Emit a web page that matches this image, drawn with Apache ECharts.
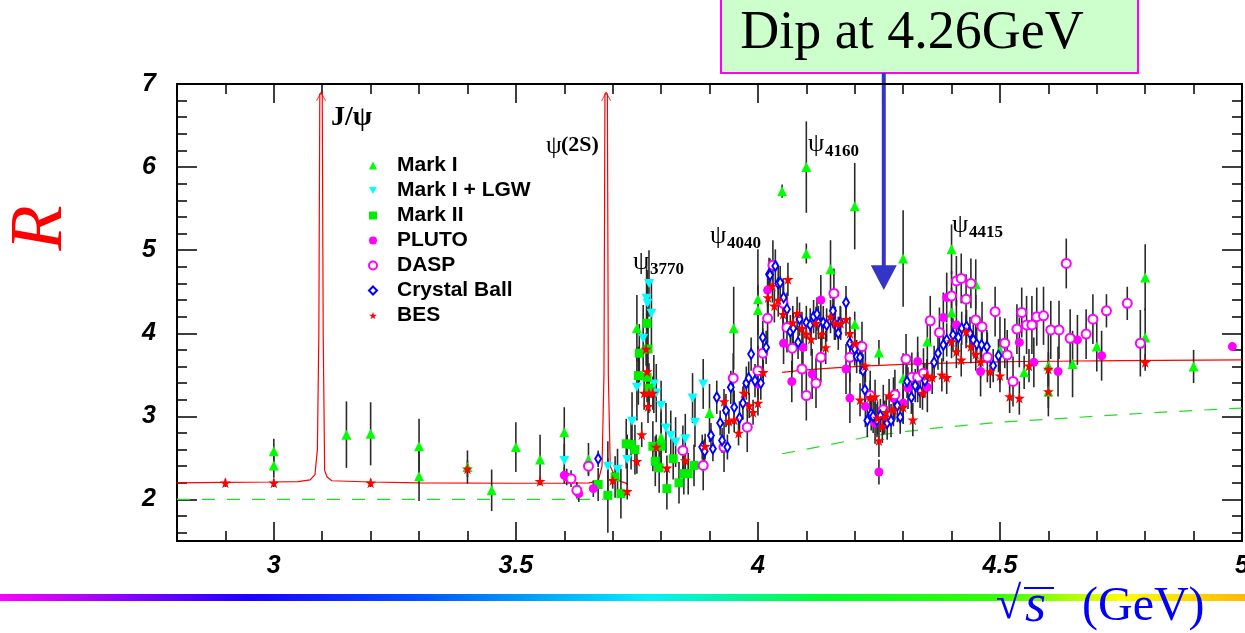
<!DOCTYPE html>
<html>
<head>
<meta charset="utf-8">
<script src="https://cdn.jsdelivr.net/npm/echarts@6/dist/echarts.min.js"></script>
<style>
  html, body { margin: 0; padding: 0; background: #ffffff; }
  #chart { width: 1245px; height: 633px; }
</style>
</head>
<body>
<div id="chart"></div>
<script>
// R = sigma(e+e- -> hadrons) / sigma(mu+mu-) in the charm threshold region.
// Each point: [sqrt(s) in GeV, R, symmetric error]
const markI = [
  [3.0, 2.58, 0.15], [3.0, 2.41, 0.15], [3.15, 2.78, 0.4], [3.2, 2.79, 0.38],
  [3.3, 2.64, 0.33], [3.3, 2.28, 0.3], [3.4, 2.39, 0.2], [3.45, 2.11, 0.25],
  [3.5, 2.63, 0.3], [3.55, 2.48, 0.3], [3.6, 2.81, 0.3], [3.65, 2.48, 0.2],
  [3.75, 4.06, 0.4], [3.8, 2.75, 0.3], [3.9, 3.04, 0.35], [3.95, 4.06, 0.5],
  [4.0, 4.41, 0.6], [4.0, 4.28, 0.3], [4.05, 5.71, 0.08], [4.1, 6.0, 0.55],
  [4.1, 4.96, 0.12], [4.15, 4.77, 0.35], [4.2, 5.53, 0.52], [4.2, 4.11, 0.15],
  [4.25, 3.77, 0.15], [4.3, 4.9, 0.58], [4.3, 3.46, 0.3], [4.35, 3.9, 0.3],
  [4.4, 5.01, 0.3], [4.4, 4.25, 0.3], [4.45, 4.59, 0.3], [4.5, 3.8, 0.4],
  [4.55, 3.53, 0.2], [4.6, 3.61, 0.4], [4.6, 3.3, 0.3], [4.65, 3.63, 0.4],
  [4.7, 3.84, 0.3], [4.8, 4.67, 0.4], [4.8, 3.95, 0.35], [4.9, 3.6, 0.2]
];
const markILGW = [
  [3.6, 2.47, 0.2], [3.69, 2.40, 0.3], [3.71, 2.36, 0.25], [3.73, 2.48, 0.3],
  [3.74, 2.94, 0.35], [3.75, 3.35, 0.4], [3.763, 3.94, 0.4], [3.77, 4.42, 0.4],
  [3.775, 4.6, 0.4], [3.772, 4.36, 0.4], [3.78, 4.24, 0.4], [3.785, 3.39, 0.35],
  [3.79, 3.28, 0.35], [3.80, 3.13, 0.3], [3.81, 2.86, 0.3], [3.82, 2.77, 0.3],
  [3.83, 2.69, 0.3], [3.85, 2.73, 0.3], [3.865, 3.22, 0.3], [3.87, 2.93, 0.3],
  [3.887, 3.39, 0.3]
];
const markII = [
  [3.67, 2.18, 0.2], [3.69, 2.05, 0.45], [3.705, 2.27, 0.25], [3.717, 2.07, 0.3],
  [3.728, 2.67, 0.3], [3.738, 2.66, 0.3], [3.746, 2.60, 0.3], [3.753, 3.49, 0.35],
  [3.755, 3.76, 0.35], [3.771, 4.12, 0.35], [3.773, 3.81, 0.35], [3.771, 3.47, 0.3],
  [3.775, 3.34, 0.3], [3.783, 2.64, 0.3], [3.788, 2.46, 0.3], [3.796, 2.38, 0.3],
  [3.80, 2.64, 0.3], [3.812, 2.13, 0.25], [3.825, 2.49, 0.25], [3.837, 2.20, 0.25],
  [3.847, 2.31, 0.25], [3.856, 2.31, 0.25], [3.868, 2.41, 0.25]
];
const pluto = [
  [3.60, 2.29, 0.1], [3.605, 2.27, 0.1], [3.63, 2.07, 0.1], [3.66, 2.13, 0.1],
  [4.0, 3.39, 0.2], [4.02, 4.52, 0.2], [4.053, 3.88, 0.25], [4.07, 3.42, 0.25],
  [4.093, 3.83, 0.25], [4.112, 3.51, 0.3], [4.13, 4.40, 0.3], [4.182, 3.57, 0.3],
  [4.19, 3.22, 0.3], [4.222, 3.12, 0.25], [4.242, 2.92, 0.25], [4.25, 2.33, 0.15],
  [4.28, 3.22, 0.25], [4.30, 3.16, 0.25], [4.31, 3.34, 0.25], [4.33, 3.66, 0.3],
  [4.35, 3.35, 0.3], [4.383, 4.19, 0.3], [4.39, 4.43, 0.3], [4.41, 4.10, 0.3],
  [4.46, 3.54, 0.3], [4.54, 3.89, 0.3], [4.57, 3.65, 0.3], [4.62, 3.54, 0.3],
  [4.66, 3.92, 0.3], [4.71, 3.73, 0.3], [4.98, 3.84, 0]
];
const dasp = [
  [3.614, 2.25, 0.1], [3.626, 2.11, 0.1], [3.65, 2.40, 0.1], [3.845, 2.59, 0.3],
  [3.887, 2.41, 0.3], [3.93, 2.63, 0.3], [3.949, 3.46, 0.3], [3.978, 2.87, 0.3],
  [4.0, 3.55, 0.3], [4.01, 3.76, 0.3], [4.02, 4.18, 0.3], [4.031, 4.82, 0.3],
  [4.052, 4.36, 0.3], [4.06, 4.07, 0.3], [4.071, 3.82, 0.3], [4.091, 3.57, 0.3],
  [4.10, 3.25, 0.3], [4.12, 3.40, 0.3], [4.13, 3.71, 0.3], [4.157, 4.48, 0.3],
  [4.19, 3.71, 0.3], [4.215, 3.84, 0.3], [4.232, 3.25, 0.3], [4.259, 3.08, 0.3],
  [4.283, 3.26, 0.3], [4.306, 3.69, 0.3], [4.318, 3.47, 0.3], [4.33, 3.47, 0.3],
  [4.342, 3.52, 0.3], [4.356, 4.15, 0.3], [4.375, 4.01, 0.3], [4.40, 4.45, 0.3],
  [4.41, 4.63, 0.3], [4.42, 4.66, 0.3], [4.43, 4.41, 0.3], [4.44, 4.60, 0.3],
  [4.45, 4.16, 0.3], [4.463, 4.08, 0.3], [4.474, 3.71, 0.3], [4.49, 4.26, 0.3],
  [4.51, 3.88, 0.3], [4.515, 3.74, 0.3], [4.527, 3.42, 0.3], [4.535, 4.05, 0.3],
  [4.545, 4.25, 0.3], [4.555, 4.10, 0.35], [4.566, 4.10, 0.35], [4.576, 4.20, 0.35],
  [4.59, 4.21, 0.35], [4.605, 4.04, 0.35], [4.622, 4.04, 0.35], [4.637, 4.84, 0.3],
  [4.645, 3.94, 0.35], [4.678, 3.99, 0.3], [4.692, 4.17, 0.3], [4.72, 4.27, 0.2],
  [4.763, 4.36, 0.2], [4.79, 3.88, 0.4]
];
const crystalBall = [
  [3.67, 2.49, 0.1], [3.885, 2.63, 0.15], [3.89, 2.58, 0.15], [3.903, 2.77, 0.15],
  [3.907, 2.61, 0.15], [3.915, 3.23, 0.2], [3.922, 2.92, 0.15], [3.926, 2.71, 0.15],
  [3.934, 3.07, 0.2], [3.937, 2.63, 0.15], [3.944, 3.35, 0.2], [3.951, 3.11, 0.2],
  [3.962, 2.98, 0.2], [3.969, 3.16, 0.2], [3.976, 3.40, 0.2], [3.981, 3.46, 0.2],
  [3.986, 3.75, 0.2], [3.994, 3.43, 0.2], [4.006, 3.40, 0.2], [4.01, 3.95, 0.2],
  [4.017, 3.83, 0.2], [4.023, 4.71, 0.2], [4.025, 4.70, 0.2], [4.036, 4.81, 0.2],
  [4.042, 4.60, 0.2], [4.046, 4.61, 0.2], [4.053, 4.43, 0.2], [4.06, 4.29, 0.2],
  [4.067, 4.02, 0.2], [4.073, 4.06, 0.2], [4.083, 3.89, 0.2], [4.086, 4.17, 0.2],
  [4.10, 4.13, 0.2], [4.108, 4.10, 0.2], [4.115, 4.20, 0.2], [4.122, 4.23, 0.2],
  [4.125, 4.13, 0.2], [4.135, 4.13, 0.2], [4.142, 4.10, 0.2], [4.155, 4.27, 0.2],
  [4.158, 4.12, 0.2], [4.166, 4.0, 0.2], [4.170, 4.13, 0.2], [4.182, 4.37, 0.2],
  [4.19, 3.88, 0.2], [4.20, 3.81, 0.2], [4.204, 3.72, 0.2], [4.211, 3.71, 0.2],
  [4.217, 3.55, 0.2], [4.221, 3.32, 0.2], [4.226, 2.95, 0.2], [4.234, 3.03, 0.2],
  [4.238, 3.0, 0.2], [4.246, 2.95, 0.2], [4.253, 3.01, 0.2], [4.267, 2.92, 0.2],
  [4.275, 2.95, 0.2], [4.288, 3.13, 0.2], [4.294, 2.99, 0.2], [4.308, 3.42, 0.2],
  [4.317, 3.23, 0.2], [4.325, 3.37, 0.2], [4.335, 3.30, 0.2], [4.345, 3.43, 0.2],
  [4.364, 3.65, 0.2], [4.372, 3.76, 0.2], [4.383, 3.86, 0.2], [4.39, 3.92, 0.2],
  [4.403, 3.98, 0.2], [4.414, 3.95, 0.2], [4.421, 4.06, 0.2], [4.431, 4.08, 0.2],
  [4.438, 4.0, 0.2], [4.445, 3.92, 0.2], [4.452, 3.87, 0.2], [4.462, 3.86, 0.2],
  [4.473, 3.84, 0.2], [4.486, 3.61, 0.2], [4.497, 3.73, 0.2]
];
const bes = [
  [2.9, 2.2, 0.05], [3.0, 2.2, 0.05], [3.2, 2.2, 0.05], [3.4, 2.37, 0.1],
  [3.55, 2.22, 0.05], [3.70, 2.23, 0.1], [3.73, 2.10, 0.1], [3.75, 2.46, 0.15],
  [3.76, 2.78, 0.15], [3.765, 3.28, 0.2], [3.769, 3.81, 0.2], [3.771, 3.54, 0.2],
  [3.775, 3.28, 0.2], [3.773, 3.12, 0.2], [3.783, 3.28, 0.2], [3.79, 2.63, 0.15],
  [3.812, 2.38, 0.15], [3.85, 2.47, 0.15], [3.891, 2.64, 0.15], [3.93, 3.18, 0.15],
  [3.94, 2.94, 0.15], [3.951, 2.96, 0.15], [3.96, 2.80, 0.15], [3.971, 3.28, 0.15],
  [3.982, 3.13, 0.15], [3.99, 3.05, 0.15], [4.0, 3.16, 0.15], [4.011, 3.53, 0.15],
  [4.021, 4.43, 0.2], [4.03, 4.57, 0.2], [4.034, 4.33, 0.2], [4.042, 4.40, 0.2],
  [4.052, 4.23, 0.2], [4.062, 4.65, 0.2], [4.072, 4.13, 0.2], [4.081, 4.24, 0.2],
  [4.091, 4.06, 0.2], [4.10, 3.99, 0.2], [4.11, 3.93, 0.2], [4.12, 4.12, 0.2],
  [4.132, 3.99, 0.2], [4.14, 3.83, 0.2], [4.15, 4.20, 0.2], [4.16, 4.12, 0.2],
  [4.171, 4.12, 0.2], [4.182, 4.17, 0.2], [4.19, 4.0, 0.2], [4.20, 3.88, 0.2],
  [4.222, 3.61, 0.2], [4.211, 3.20, 0.2], [4.232, 3.23, 0.2], [4.242, 3.24, 0.2],
  [4.247, 2.98, 0.2], [4.25, 2.71, 0.2], [4.257, 2.88, 0.2], [4.262, 2.99, 0.2],
  [4.265, 3.05, 0.2], [4.271, 3.25, 0.2], [4.28, 3.08, 0.2], [4.30, 3.11, 0.2],
  [4.32, 2.96, 0.2], [4.34, 3.28, 0.2], [4.349, 3.49, 0.2], [4.36, 3.47, 0.2],
  [4.38, 3.50, 0.2], [4.39, 3.47, 0.2], [4.40, 3.90, 0.2], [4.41, 3.78, 0.2],
  [4.42, 3.68, 0.2], [4.43, 4.02, 0.2], [4.44, 3.84, 0.2], [4.45, 3.75, 0.2],
  [4.46, 3.66, 0.2], [4.48, 3.54, 0.2], [4.50, 3.49, 0.2], [4.52, 3.24, 0.2],
  [4.54, 3.22, 0.2], [4.56, 3.61, 0.2], [4.60, 3.57, 0.2], [4.60, 3.30, 0.2],
  [4.80, 3.65, 0.1]
];

// Theory curves: resonance line shape (J/psi, psi(2S)) and continuum predictions
const resonanceCurve = [
  [2.8, 2.2], [2.9, 2.205], [3.0, 2.21], [3.05, 2.215], [3.075, 2.235], [3.085, 2.3],
  [3.09, 2.6], [3.093, 4.0], [3.095, 6.88], [3.1, 6.88], [3.102, 4.0], [3.105, 2.35],
  [3.11, 2.27], [3.12, 2.225], [3.2, 2.21], [3.3, 2.2], [3.5, 2.195], [3.6, 2.195],
  [3.65, 2.2], [3.67, 2.22], [3.678, 2.4], [3.682, 3.5], [3.684, 6.88], [3.689, 6.88],
  [3.691, 3.5], [3.695, 2.4], [3.703, 2.3], [3.715, 2.22], [3.73, 2.19]
];
const continuumHigh = [
  [4.05, 3.53], [4.15, 3.58], [4.3, 3.625], [4.5, 3.655], [4.75, 3.67], [5.0, 3.68]
];
const partonLow = [[2.8, 2.0], [3.68, 2.0]];
const partonHigh = [
  [4.05, 2.55], [4.15, 2.66], [4.23, 2.76], [4.35, 2.85], [4.5, 2.93],
  [4.64, 2.98], [4.8, 3.04], [5.0, 3.1]
];
const peakTips = [[3.0975, 6.85], [3.6865, 6.85]];
const dipEnergy = 4.26;

// Axis ticks
const xMajorTicks = [3, 3.5, 4, 4.5, 5];
const xMinorTicks = [2.9, 3.1, 3.2, 3.3, 3.4, 3.6, 3.7, 3.8, 3.9, 4.1, 4.2, 4.3, 4.4, 4.6, 4.7, 4.8, 4.9];
const yMajorTicks = [2, 3, 4, 5, 6, 7];
const yMinorTicks = [1.6, 1.8, 2.2, 2.4, 2.6, 2.8, 3.2, 3.4, 3.6, 3.8, 4.2, 4.4, 4.6, 4.8,
                     5.2, 5.4, 5.6, 5.8, 6.2, 6.4, 6.6, 6.8];

const SANS = 'Liberation Sans, Arial, sans-serif';
const SERIF = 'Liberation Serif, Times New Roman, serif';
const STAR = 'path://M50,0L61,35L98,35L68,57L79,91L50,70L21,91L32,57L2,35L39,35Z';
const DOWN_TRIANGLE = 'path://M0,0L10,0L5,9Z';

const experiments = [
  { name: 'Mark I', data: markI, symbol: 'triangle', size: 10, color: '#00ff00' },
  { name: 'Mark I + LGW', data: markILGW, symbol: DOWN_TRIANGLE, size: [10, 9], color: '#00ffff' },
  { name: 'Mark II', data: markII, symbol: 'rect', size: 9, color: '#00ee00' },
  { name: 'PLUTO', data: pluto, symbol: 'circle', size: 9, color: '#ff00ff' },
  { name: 'DASP', data: dasp, symbol: 'emptyCircle', size: 9, color: '#ff00ff' },
  { name: 'Crystal Ball', data: crystalBall, symbol: 'emptyDiamond', size: [6, 10], color: '#0000ff' },
  { name: 'BES', data: bes, symbol: STAR, size: 11, color: '#ff0000' }
];

function errorBars(exp) {
  return {
    type: 'custom',
    name: exp.name + ' errors',
    data: exp.data,
    encode: { x: 0, y: 1 },
    clip: true,
    z: 2,
    silent: true,
    renderItem: function (params, api) {
      const x = api.value(0), y = api.value(1), e = api.value(2);
      const top = api.coord([x, y + e]);
      const bot = api.coord([x, y - e]);
      return {
        type: 'line',
        shape: { x1: top[0], y1: top[1], x2: bot[0], y2: bot[1] },
        style: { stroke: '#2a2a2a', lineWidth: 1.6 }
      };
    }
  };
}

function markers(exp) {
  return {
    type: 'scatter',
    name: exp.name,
    data: exp.data.map(d => [d[0], d[1]]),
    symbol: exp.symbol,
    symbolSize: exp.size,
    itemStyle: { color: exp.color, borderColor: exp.color, borderWidth: exp.symbol.indexOf('empty') === 0 ? 1.2 : 0, opacity: 1 },
    z: 4,
    silent: true
  };
}

function tickAxis(pos, ticks, len, showLine, isX) {
  return {
    type: 'value',
    position: pos,
    min: isX ? 2.8 : 1.5,
    max: isX ? 5.0 : 7,
    splitLine: { show: false },
    axisLine: { show: showLine, onZero: false, lineStyle: { color: '#000', width: 2 } },
    axisTick: { show: true, inside: true, length: len, customValues: ticks, lineStyle: { color: '#000', width: 1.5 } },
    axisLabel: { show: false }
  };
}

const xAxes = [
  Object.assign(tickAxis('bottom', xMajorTicks, 19, true, true), {
    axisLabel: {
      show: true, customValues: xMajorTicks, margin: 13,
      fontFamily: SANS, fontSize: 25, fontWeight: 'bold', fontStyle: 'italic', color: '#000'
    }
  }),
  tickAxis('bottom', xMinorTicks, 10, false, true),
  tickAxis('top', xMajorTicks, 19, true, true),
  tickAxis('top', xMinorTicks, 10, false, true)
];
const yAxes = [
  Object.assign(tickAxis('left', yMajorTicks, 20, true, false), {
    axisLabel: {
      show: true, customValues: yMajorTicks, margin: 21,
      fontFamily: SANS, fontSize: 25, fontWeight: 'bold', fontStyle: 'italic', color: '#000'
    }
  }),
  tickAxis('left', yMinorTicks, 10, false, false),
  tickAxis('right', yMajorTicks, 20, true, false),
  tickAxis('right', yMinorTicks, 10, false, false)
];

const series = [
  { type: 'line', name: 'parton low', data: partonLow, showSymbol: false, silent: true, z: 1,
    lineStyle: { color: '#22dd22', width: 1.2, type: [13, 12] } },
  { type: 'line', name: 'parton high', data: partonHigh, showSymbol: false, silent: true, z: 1,
    lineStyle: { color: '#22dd22', width: 1.2, type: [13, 12] } },
  { type: 'line', name: 'resonances', data: resonanceCurve, showSymbol: false, silent: true, z: 1,
    lineStyle: { color: '#ff0000', width: 1.2 } },
  { type: 'line', name: 'continuum', data: continuumHigh, showSymbol: false, silent: true, z: 1,
    lineStyle: { color: '#ff0000', width: 1.2 }, smooth: true },
  { type: 'scatter', name: 'peak tips', data: peakTips, symbol: 'path://M0,10L5,0L10,10',
    symbolSize: [9, 9], silent: true, z: 1,
    itemStyle: { color: 'none', borderColor: '#ff0000', borderWidth: 1 } }
];
experiments.forEach(e => series.push(errorBars(e)));
experiments.forEach(e => series.push(markers(e)));

const chart = echarts.init(document.getElementById('chart'), null, { renderer: 'canvas' });

const option = {
  animation: false,
  backgroundColor: '#ffffff',
  grid: { left: 177, right: 3, top: 84, bottom: 92, containLabel: false, outerBoundsMode: 'none' },
  xAxis: xAxes,
  yAxis: yAxes,
  legend: {
    orient: 'vertical',
    left: 363,
    top: 150,
    itemWidth: 8,
    itemHeight: 8,
    itemGap: 4,
    selectedMode: false,
    data: experiments.map(e => e.name),
    textStyle: {
      fontFamily: SANS, fontSize: 21, fontWeight: 'bold', color: '#000',
      lineHeight: 21, padding: [0, 0, 0, 15]
    }
  },
  series: series
};
chart.setOption(option);

// Annotations placed relative to the plotting frame
const tip = chart.convertToPixel({ gridIndex: 0 }, [dipEnergy, 4.52]);
const headTop = chart.convertToPixel({ gridIndex: 0 }, [dipEnergy, 4.82]);
const ax = tip[0];

const psiLabel = (x, y, sub) => [
  { type: 'text', left: x, top: y - 14, style: { text: 'ψ', font: '26px ' + SERIF, fill: '#000' } },
  { type: 'text', left: x + 17, top: y - 2, style: { text: sub, font: 'bold 17px ' + SERIF, fill: '#000' } }
];

chart.setOption({
  graphic: [
    // rainbow rule under the axis
    { type: 'rect', shape: { x: 0, y: 594, width: 1245, height: 7 }, silent: true,
      style: { fill: { type: 'linear', x: 0, y: 0, x2: 1, y2: 0, colorStops: [
        { offset: 0, color: '#ff00ff' }, { offset: 0.2, color: '#1a00ff' },
        { offset: 0.34, color: '#0055ff' }, { offset: 0.52, color: '#00f0ff' },
        { offset: 0.66, color: '#00ff30' }, { offset: 0.8, color: '#33ff00' },
        { offset: 0.9, color: '#ffff00' }, { offset: 1, color: '#ffb800' } ] } } },
    // y axis title
    { type: 'text', x: 42, y: 228, rotation: Math.PI / 2, silent: true,
      style: { text: 'R', font: 'italic 74px ' + SERIF, fill: '#ff0000', align: 'center', verticalAlign: 'middle' } },
    // x axis title: sqrt(s) (GeV)
    { type: 'text', left: 996, top: 583, silent: true,
      style: { text: '√', font: '46px ' + SERIF, fill: '#0000ff' } },
    { type: 'line', shape: { x1: 1024, y1: 588, x2: 1054, y2: 588 }, silent: true,
      style: { stroke: '#0000ff', lineWidth: 2 } },
    { type: 'text', left: 1025, top: 580, silent: true,
      style: { text: 's', font: 'italic 54px ' + SERIF, fill: '#0000ff' } },
    { type: 'text', left: 1082, top: 583, silent: true,
      style: { text: '(GeV)', font: '48px ' + SERIF, fill: '#0000ff' } },
    // dip callout
    { type: 'rect', shape: { x: 721, y: -6, width: 417, height: 79 }, silent: true,
      style: { fill: '#ccffcc', stroke: '#ff00ff', lineWidth: 2 } },
    { type: 'text', x: 912, y: 34, silent: true,
      style: { text: 'Dip at 4.26GeV', font: '54px ' + SERIF, fill: '#000', align: 'center', verticalAlign: 'middle' } },
    { type: 'rect', shape: { x: ax - 2, y: 73, width: 4, height: headTop[1] - 72 }, silent: true,
      style: { fill: '#3434c8' } },
    { type: 'polygon', shape: { points: [[ax - 13, headTop[1]], [ax + 13, headTop[1]], [ax, tip[1]]] }, silent: true,
      style: { fill: '#3434c8' } },
    // resonance labels
    { type: 'text', left: 331, top: 104, silent: true,
      style: { text: 'J/ψ', font: 'bold 28px ' + SERIF, fill: '#000' } },
    { type: 'text', left: 546, top: 134, silent: true,
      style: { text: 'ψ', font: '25px ' + SERIF, fill: '#000' } },
    { type: 'text', left: 561, top: 134, silent: true,
      style: { text: '(2S)', font: 'bold 22px ' + SERIF, fill: '#000' } }
  ].concat(psiLabel(633, 263, '3770'), psiLabel(710, 237, '4040'),
           psiLabel(808, 145, '4160'), psiLabel(952, 226, '4415'))
});
</script>
</body>
</html>
